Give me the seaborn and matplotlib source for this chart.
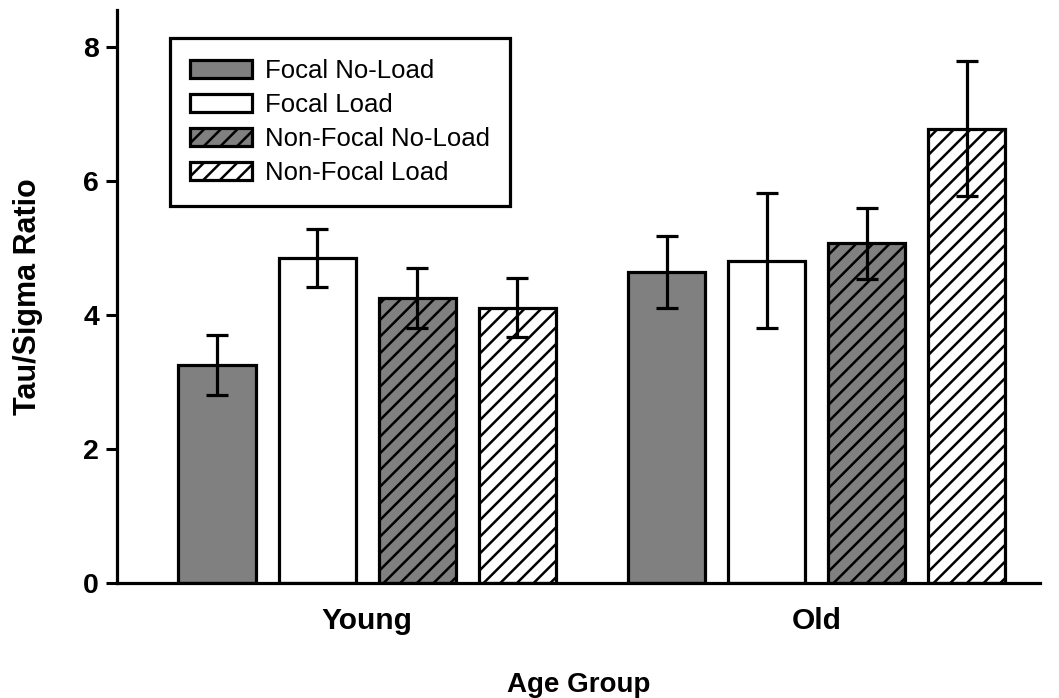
import matplotlib
matplotlib.use("Agg")
import matplotlib.pyplot as plt
import matplotlib.patches as mpatches
import seaborn as sns
import pandas as pd

# Mean Tau/Sigma ratios and their error half-widths
groups = ["Young", "Old"]
conditions = ["Focal No-Load", "Focal Load", "Non-Focal No-Load", "Non-Focal Load"]
young_means = [3.25, 4.85, 4.25, 4.11]
old_means = [4.64, 4.81, 5.07, 6.78]
young_errs = [0.45, 0.43, 0.45, 0.44]
old_errs = [0.54, 1.01, 0.53, 1.01]

fills = ["#808080", "#ffffff", "#808080", "#ffffff"]
hatches = ["", "", "//", "//"]

rows = []
for g, means, errs in [("Young", young_means, young_errs), ("Old", old_means, old_errs)]:
    for c, m, e in zip(conditions, means, errs):
        rows.append({"group": g, "condition": c, "value": m, "err": e})
df = pd.DataFrame(rows)

sns.set_style("ticks")
plt.rcParams["font.family"] = ["Liberation Sans", "DejaVu Sans"]
plt.rcParams["hatch.linewidth"] = 1.8
plt.rcParams["hatch.color"] = "black"
for key in ["text.color", "axes.labelcolor", "xtick.color", "ytick.color", "axes.edgecolor"]:
    plt.rcParams[key] = "black"

fig = plt.figure(figsize=(10.59, 6.98), dpi=100)
ax = fig.add_axes([0.1105, 0.1648, 0.8715, 0.8209])

sns.barplot(data=df, x="group", y="value", hue="condition",
            order=groups, hue_order=conditions,
            palette=fills, edgecolor="black", linewidth=2.3,
            width=0.89, gap=0.23, errorbar=None, legend=False,
            saturation=1, ax=ax)

for cont, hatch, cond in zip(ax.containers, hatches, conditions):
    sub = df[df["condition"] == cond].set_index("group").loc[groups]
    xs, ys = [], []
    for bar in cont.patches:
        bar.set_hatch(hatch)
        bar.set_edgecolor("black")
        xs.append(bar.get_x() + bar.get_width() / 2)
        ys.append(bar.get_height())
    ax.errorbar(xs, ys, yerr=sub["err"].values, fmt="none", ecolor="black",
                elinewidth=2.3, capsize=8, capthick=2.3, zorder=5)

ax.set_xlim(-0.556, 1.496)
ax.set_ylim(0, 8.55)
ax.set_yticks([0, 2, 4, 6, 8])
ax.set_yticklabels(["0", "2", "4", "6", "8"])

for side in ["top", "right"]:
    ax.spines[side].set_visible(False)
for side in ["left", "bottom"]:
    ax.spines[side].set_linewidth(2.3)

ax.tick_params(axis="y", direction="out", length=8, width=2.2, labelsize=20.5, pad=5)
ax.tick_params(axis="x", length=0, labelsize=21.5, pad=17)
for lbl in ax.get_xticklabels() + ax.get_yticklabels():
    lbl.set_fontweight("bold")

ax.set_xlabel("Age Group", fontsize=20, fontweight="bold", labelpad=27)
ax.set_ylabel("Tau/Sigma Ratio", fontsize=22, fontweight="bold", labelpad=29)

handles = [mpatches.Patch(facecolor=f, edgecolor="black", hatch=h, linewidth=2.3)
           for f, h in zip(fills, hatches)]
leg = ax.legend(handles, conditions, loc="upper left", bbox_to_anchor=(0.057, 0.951),
                borderaxespad=0, fontsize=18.5, frameon=True, fancybox=False,
                framealpha=1, handlelength=2.4, handleheight=0.7, labelspacing=0.4,
                handletextpad=0.5, borderpad=0.8)
leg.get_frame().set_edgecolor("black")
leg.get_frame().set_linewidth(2.3)

fig.savefig("out.png", dpi=100)
